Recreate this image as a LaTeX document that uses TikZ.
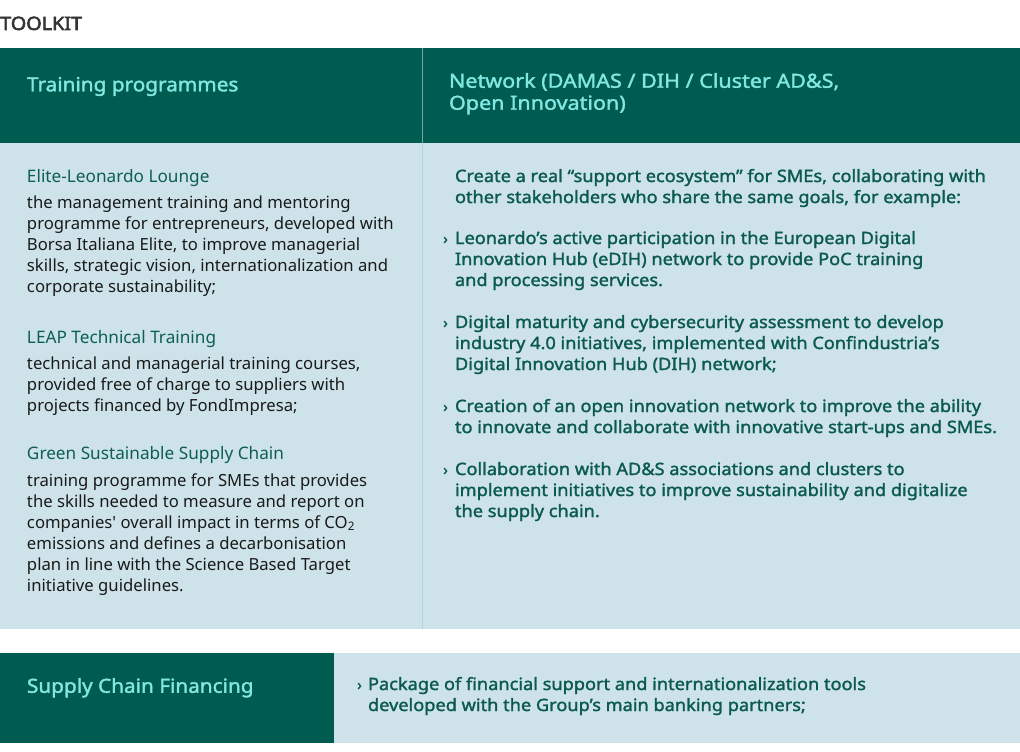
\documentclass[tikz,border=0pt]{standalone}
\usepackage{fontspec}
\setmainfont{Noto Sans}
\newfontfamily\plainfont{Noto Sans}
\newfontfamily\rightfont[FakeStretch=1.07,FakeBold=1.6]{Noto Sans}
\newfontfamily\bulletfont[FakeBold=1]{Noto Sans}
\newfontfamily\headfont[FakeStretch=1.07,FakeBold=1.8]{Noto Sans}
\newfontfamily\headwidefont[FakeStretch=1.11,FakeBold=1.8]{Noto Sans}
\newfontfamily\titlefont[FakeStretch=1.07,FakeBold=3]{Noto Sans}
\definecolor{dkgreen}{HTML}{005B50}
\definecolor{lightblue}{HTML}{CDE3E9}
\definecolor{hdrtext}{HTML}{80E8E0}
\definecolor{subgreen}{HTML}{0D5E55}
\definecolor{righttext}{HTML}{0B5A4F}
\definecolor{bodytext}{HTML}{1A1A1A}
\definecolor{titlegray}{HTML}{353535}
\definecolor{hdrsepc}{HTML}{6FA8A0}
\definecolor{bodysepc}{HTML}{B4D4DB}
\newcommand\topstrut{\rule{0pt}{14pt}}
\tikzset{
  txt/.style={anchor=north west, inner sep=0pt, outer sep=0pt, align=left},
  lefthead/.style={txt, text=hdrtext, font={\headfont\fontsize{19.4}{22}\selectfont}},
  subhead/.style={txt, text=subgreen, font={\fontsize{17.2}{21}\selectfont}},
  bodyleft/.style={txt, text=bodytext, font={\fontsize{16.7}{21}\selectfont}},
  bodyright/.style={txt, text=righttext, font={\rightfont\fontsize{17}{21}\selectfont}},
  bulletmark/.style={anchor=base west, inner sep=0pt, text=righttext, font={\bulletfont\fontsize{15}{21}\selectfont}},
}
\begin{document}
\begin{tikzpicture}[x=1pt,y=-1pt]
\useasboundingbox (0,0) rectangle (1020,752);
% backgrounds
\fill[dkgreen] (0,48) rectangle (1020,143);
\fill[lightblue] (0,143) rectangle (1020,629);
\draw[hdrsepc, line width=1pt] (422,48) -- (422,143);
\draw[bodysepc, line width=1pt] (422,143) -- (422,629);
\fill[lightblue] (0,653) rectangle (1020,743);
\fill[dkgreen] (0,653) rectangle (334,743);

% title
\node[anchor=base west, inner sep=0pt, text=titlegray, font={\titlefont\fontsize{18.5}{20}\selectfont}] (title) at (0,30) {TOOLKIT};

% headers
\node[lefthead] (h1) at (27,77) {\topstrut Training programmes};
\node[lefthead, font={\headwidefont\fontsize{19.4}{22}\selectfont}] (h2) at (449,73) {\topstrut Network (DAMAS / DIH / Cluster AD\&S,\\Open Innovation)};

% left column
\node[subhead] (s1) at (27,168) {\topstrut Elite-Leonardo Lounge};
\node[bodyleft] (b1) at (27,194) {\topstrut the management training and mentoring\\
programme for entrepreneurs, developed with\\
Borsa Italiana Elite, to improve managerial\\
skills, strategic vision, internationalization and\\
corporate sustainability;};
\node[subhead] (s2) at (27,329) {\topstrut LEAP Technical Training};
\node[bodyleft] (b2) at (27,355) {\topstrut technical and managerial training courses,\\
provided free of charge to suppliers with\\
projects financed by FondImpresa;};
\node[subhead] (s3) at (27,445) {\topstrut Green Sustainable Supply Chain};
\node[bodyleft] (b3) at (27,472) {\topstrut training programme for SMEs that provides\\
the skills needed to measure and report on\\
companies{\plainfont '} overall impact in terms of CO\textsubscript{2}\\
emissions and defines a decarbonisation\\
plan in line with the Science Based Target\\
initiative guidelines.};

% right column
\node[bodyright] (r0) at (455,168) {\topstrut Create a real “support ecosystem” for SMEs, collaborating with\\
other stakeholders who share the same goals, for example:};
\node[bulletmark] (m1) at (443,244) {›};
\node[bodyright] (r1) at (455,230) {\topstrut Leonardo’s active participation in the European Digital\\
Innovation Hub (eDIH) network to provide PoC training\\
and processing services.};
\node[bulletmark] (m2) at (443,328) {›};
\node[bodyright] (r2) at (455,314) {\topstrut Digital maturity and cybersecurity assessment to develop\\
industry 4.0 initiatives, implemented with Confindustria’s\\
Digital Innovation Hub (DIH) network;};
\node[bulletmark] (m3) at (443,412) {›};
\node[bodyright] (r3) at (455,398) {\topstrut Creation of an open innovation network to improve the ability\\
to innovate and collaborate with innovative start-ups and SMEs.};
\node[bulletmark] (m4) at (443,475) {›};
\node[bodyright] (r4) at (455,461) {\topstrut Collaboration with AD\&S associations and clusters to\\
implement initiatives to improve sustainability and digitalize\\
the supply chain.};

% bottom
\node[lefthead] (h3) at (27,678) {\topstrut Supply Chain Financing};
\node[bulletmark] (m5) at (357,690) {›};
\node[bodyright] (r5) at (368,676) {\topstrut Package of financial support and internationalization tools\\
developed with the Group’s main banking partners;};
\end{tikzpicture}
\end{document}
